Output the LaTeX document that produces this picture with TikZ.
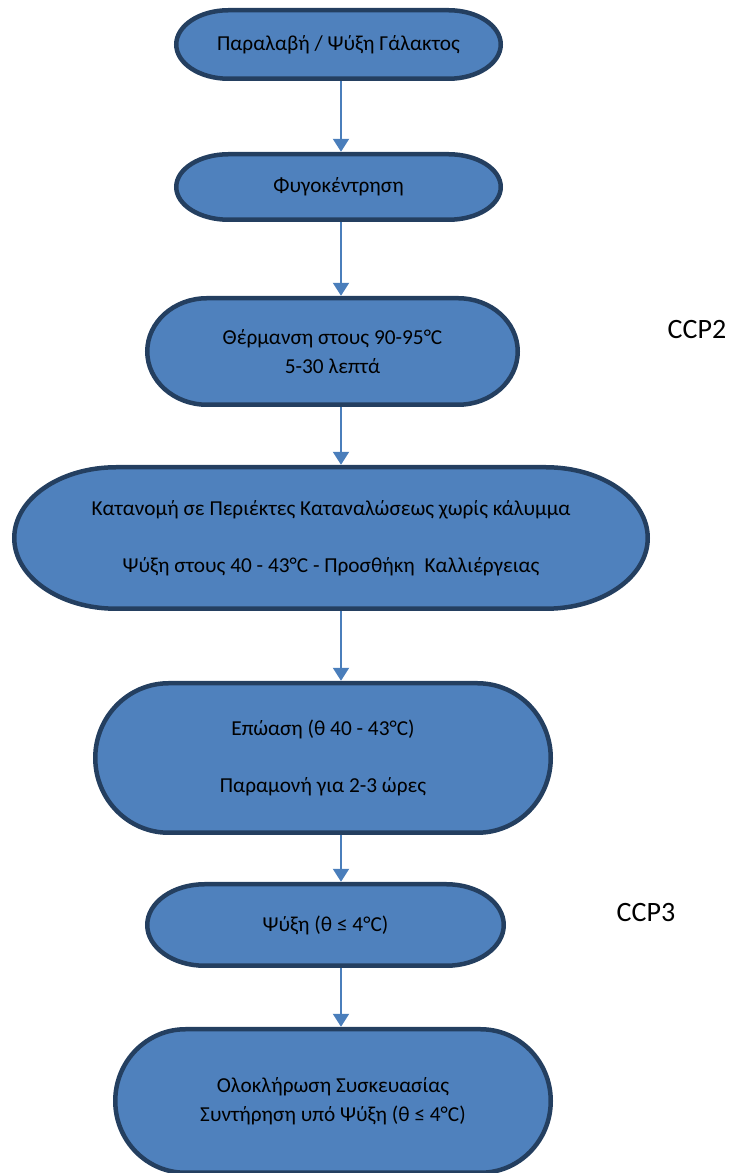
\documentclass[tikz,border=0pt]{standalone}
\usepackage{fontspec}
\setmainfont{Carlito}
\usetikzlibrary{arrows.meta}
\definecolor{boxfill}{HTML}{4F81BD}
\definecolor{boxline}{HTML}{243F60}
\definecolor{arrcol}{HTML}{4A7EBB}
\tikzset{
  termshape/.style={fill=boxfill, draw=boxline, line width=4.5pt},
  boxtext/.style={inner sep=0pt, align=center, font=\fontsize{21.3}{28.5}\selectfont, text=black},
  ccp/.style={inner sep=0pt, font=\fontsize{28}{34}\selectfont, text=black},
  arr/.style={draw=arrcol, line width=2pt, -{Triangle[length=13pt,width=16pt,fill=arrcol]}}
}
\newcommand\termbox[6]{%
  \pgfmathsetmacro\tcx{#2}%
  \pgfmathsetmacro\tcy{1173-#3}%
  \pgfmathsetmacro\thw{(#4-4.5)/2}%
  \pgfmathsetmacro\thh{(#5-4.5)/2}%
  \pgfmathsetmacro\trx{0.161*(#4-4.5)}%
  \filldraw[termshape] (\tcx-\thw+\trx,\tcy+\thh) -- (\tcx+\thw-\trx,\tcy+\thh)
     arc[start angle=90,end angle=-90,x radius=\trx pt,y radius=\thh pt]
     -- (\tcx-\thw+\trx,\tcy-\thh)
     arc[start angle=270,end angle=90,x radius=\trx pt,y radius=\thh pt] -- cycle;
  \node[boxtext, minimum width=#4pt, minimum height=#5pt] (#1) at (\tcx,\tcy) {#6};
}
\begin{document}
\begin{tikzpicture}[x=1pt,y=1pt]
\useasboundingbox (0,0) rectangle (733,1173);
\termbox{b1}{338.5}{44.5}{329}{73}{Παραλαβή / Ψύξη Γάλακτος}
\termbox{b2}{338.5}{187}{329}{70}{Φυγοκέντρηση}
\termbox{b3}{332.5}{351.5}{375}{111}{Θέρμανση στους 90-95°C\\5-30 λεπτά}
\termbox{b4}{331}{538}{638}{146}{Κατανομή σε Περιέκτες Καταναλώσεως χωρίς κάλυμμα\\[28.5pt]Ψύξη στους 40 - 43°C - Προσθήκη\ \ Καλλιέργειας}
\termbox{b5}{323}{758}{460}{154}{Επώαση (θ 40 - 43°C)\\[28.5pt]Παραμονή για 2-3 ώρες}
\termbox{b6}{325.5}{925}{361}{86}{Ψύξη (θ ≤ 4°C)}
\termbox{b7}{333}{1101}{440}{148}{Ολοκλήρωση Συσκευασίας\\Συντήρηση υπό Ψύξη (θ ≤ 4°C)}
\coordinate (ax) at (341,0);
\draw[arr] (b1.south -| ax) -- (b2.north -| ax);
\draw[arr] (b2.south -| ax) -- (b3.north -| ax);
\draw[arr] (b3.south -| ax) -- (b4.north -| ax);
\draw[arr] (b4.south -| ax) -- (b5.north -| ax);
\draw[arr] (b5.south -| ax) -- (b6.north -| ax);
\draw[arr] (b6.south -| ax) -- (b7.north -| ax);
\node[ccp] (ccp2) at (697,843) {CCP2};
\node[ccp] (ccp3) at (646,260) {CCP3};
\end{tikzpicture}
\end{document}
